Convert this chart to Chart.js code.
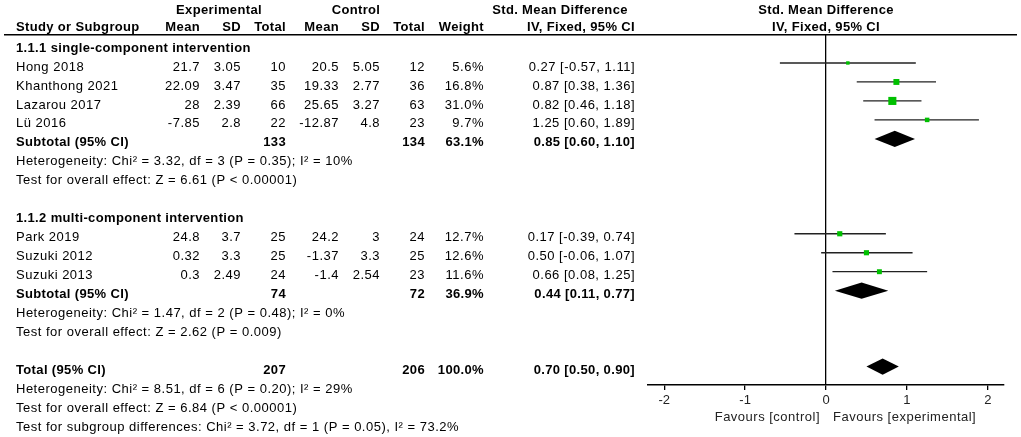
<!DOCTYPE html>
<html>
<head>
<meta charset="utf-8">
<script src="https://cdn.jsdelivr.net/npm/chart.js@4.4.0/dist/chart.umd.min.js"></script>
<style>
body { margin: 0; background: #fff; }
#wrap { width: 1021px; height: 437px; position: relative; }
</style>
</head>
<body>
<div id="wrap"><canvas id="forestChart"></canvas></div>
<script>
// study level data
const studies = ['Hong 2018', 'Khanthong 2021', 'Lazarou 2017', 'Lü 2016', 'Park 2019', 'Suzuki 2012', 'Suzuki 2013'];
const studyGroup = [0, 0, 0, 0, 1, 1, 1];
const expMean = [21.7, 22.09, 28, -7.85, 24.8, 0.32, 0.3];
const expSD = [3.05, 3.47, 2.39, 2.8, 3.7, 3.3, 2.49];
const expTotal = [10, 35, 66, 22, 25, 25, 24];
const ctlMean = [20.5, 19.33, 25.65, -12.87, 24.2, -1.37, -1.4];
const ctlSD = [5.05, 2.77, 3.27, 4.8, 3, 3.3, 2.54];
const ctlTotal = [12, 36, 63, 23, 24, 25, 23];
const weights = [5.6, 16.8, 31.0, 9.7, 12.7, 12.6, 11.6];
const smd = [0.27, 0.87, 0.82, 1.25, 0.17, 0.50, 0.66];
const ciLow = [-0.57, 0.38, 0.46, 0.60, -0.39, -0.06, 0.08];
const ciHigh = [1.11, 1.36, 1.18, 1.89, 0.74, 1.07, 1.25];

// subgroups
const groupLabels = ['1.1.1 single-component intervention', '1.1.2 multi-component intervention'];
const subExpTotal = [133, 74];
const subCtlTotal = [134, 72];
const subWeight = [63.1, 36.9];
const subSmd = [0.85, 0.44];
const subLow = [0.60, 0.11];
const subHigh = [1.10, 0.77];
const subHet = ['Heterogeneity: Chi² = 3.32, df = 3 (P = 0.35); I² = 10%', 'Heterogeneity: Chi² = 1.47, df = 2 (P = 0.48); I² = 0%'];
const subTest = ['Test for overall effect: Z = 6.61 (P < 0.00001)', 'Test for overall effect: Z = 2.62 (P = 0.009)'];

// overall
const totalExp = 207;
const totalCtl = 206;
const totalWeight = 100.0;
const totalSmd = 0.70;
const totalLow = 0.50;
const totalHigh = 0.90;
const totalNotes = [
    'Heterogeneity: Chi² = 8.51, df = 6 (P = 0.20); I² = 29%',
    'Test for overall effect: Z = 6.84 (P < 0.00001)',
    'Test for subgroup differences: Chi² = 3.72, df = 1 (P = 0.05), I² = 73.2%'
];

const xTicks = [-2, -1, 0, 1, 2];

// work out which row everything sits on
const studyRow = [];
const groupRow = [];
const subRow = [];
let r = 0;
groupLabels.forEach((g, gi) => {
    groupRow[gi] = r++;
    studies.forEach((s, i) => {
        if (studyGroup[i] === gi) studyRow[i] = r++;
    });
    subRow[gi] = r++;
    r += 3; // heterogeneity, test, blank
});
const totalRow = r;

const FONT = '"Liberation Sans", Arial, sans-serif';
const fmt2 = v => v.toFixed(2);
const ciText = (e, l, h) => fmt2(e) + ' [' + fmt2(l) + ', ' + fmt2(h) + ']';
const DIAMOND_H = 0.43;

function diamond(e, l, h, row) {
    return [
        { x: l, y: row }, { x: e, y: row - DIAMOND_H }, { x: h, y: row },
        { x: e, y: row + DIAMOND_H }, { x: l, y: row }
    ];
}

const datasets = [];
datasets.push({
    label: 'studies',
    data: studies.map((s, i) => ({ x: smd[i], y: studyRow[i] })),
    pointStyle: 'rect',
    pointRadius: weights.map(w => 1.45 * Math.sqrt(w) / Math.SQRT2),
    backgroundColor: '#00c000',
    borderWidth: 0
});
studies.forEach((s, i) => {
    datasets.push({
        type: 'line',
        label: s + ' CI',
        data: [{ x: ciLow[i], y: studyRow[i] }, { x: ciHigh[i], y: studyRow[i] }],
        borderColor: '#222',
        borderWidth: 1.3,
        pointRadius: 0
    });
});
groupLabels.forEach((g, gi) => {
    datasets.push({
        type: 'line',
        label: g,
        data: diamond(subSmd[gi], subLow[gi], subHigh[gi], subRow[gi]),
        borderWidth: 0,
        borderColor: '#000',
        backgroundColor: '#000',
        fill: 'shape',
        pointRadius: 0
    });
});
datasets.push({
    type: 'line',
    label: 'total',
    data: diamond(totalSmd, totalLow, totalHigh, totalRow),
    borderWidth: 0,
    borderColor: '#000',
    backgroundColor: '#000',
    fill: 'shape',
    pointRadius: 0
});

const tablePlugin = {
    id: 'forestTable',
    afterDraw(chart) {
        const ctx = chart.ctx;
        const ys = chart.scales.y;
        const xs = chart.scales.x;
        const rowY = row => ys.getPixelForValue(row) + 4;
        const put = (t, px, row, align, bold) => {
            ctx.font = (bold ? 'bold ' : '') + '13px ' + FONT;
            ctx.letterSpacing = bold ? '0.35px' : '0.5px';
            ctx.textAlign = align || 'right';
            ctx.fillText(t, px, rowY(row));
        };
        ctx.save();
        ctx.fillStyle = '#000';
        ctx.textBaseline = 'middle';

        // headers
        const h1 = -2.0, h2 = -1.06;
        put('Experimental', 219, h1, 'center', true);
        put('Control', 356, h1, 'center', true);
        put('Std. Mean Difference', 560, h1, 'center', true);
        put('Std. Mean Difference', xs.getPixelForValue(0), h1, 'center', true);
        put('Study or Subgroup', 16, h2, 'left', true);
        put('Mean', 200, h2, 'right', true);
        put('SD', 241, h2, 'right', true);
        put('Total', 286, h2, 'right', true);
        put('Mean', 339, h2, 'right', true);
        put('SD', 380, h2, 'right', true);
        put('Total', 425, h2, 'right', true);
        put('Weight', 484, h2, 'right', true);
        put('IV, Fixed, 95% CI', 635, h2, 'right', true);
        put('IV, Fixed, 95% CI', xs.getPixelForValue(0), h2, 'center', true);

        ctx.strokeStyle = '#000';
        ctx.lineWidth = 1.5;
        ctx.beginPath();
        ctx.moveTo(4, ys.top + 0.75);
        ctx.lineTo(1017, ys.top + 0.75);
        ctx.stroke();

        groupLabels.forEach((g, gi) => {
            put(g, 16, groupRow[gi], 'left', true);
            const sr = subRow[gi];
            put('Subtotal (95% CI)', 16, sr, 'left', true);
            put(String(subExpTotal[gi]), 286, sr, 'right', true);
            put(String(subCtlTotal[gi]), 425, sr, 'right', true);
            put(subWeight[gi].toFixed(1) + '%', 484, sr, 'right', true);
            put(ciText(subSmd[gi], subLow[gi], subHigh[gi]), 635, sr, 'right', true);
            put(subHet[gi], 16, sr + 1, 'left', false);
            put(subTest[gi], 16, sr + 2, 'left', false);
        });

        studies.forEach((s, i) => {
            const row = studyRow[i];
            put(s, 16, row, 'left', false);
            put(String(expMean[i]), 200, row);
            put(String(expSD[i]), 241, row);
            put(String(expTotal[i]), 286, row);
            put(String(ctlMean[i]), 339, row);
            put(String(ctlSD[i]), 380, row);
            put(String(ctlTotal[i]), 425, row);
            put(weights[i].toFixed(1) + '%', 484, row);
            put(ciText(smd[i], ciLow[i], ciHigh[i]), 635, row);
        });

        put('Total (95% CI)', 16, totalRow, 'left', true);
        put(String(totalExp), 286, totalRow, 'right', true);
        put(String(totalCtl), 425, totalRow, 'right', true);
        put(totalWeight.toFixed(1) + '%', 484, totalRow, 'right', true);
        put(ciText(totalSmd, totalLow, totalHigh), 635, totalRow, 'right', true);
        totalNotes.forEach((t, k) => put(t, 16, totalRow + 1 + k, 'left', false));

        // favours labels under the axis
        const zero = xs.getPixelForValue(0);
        ctx.font = '13px ' + FONT;
        ctx.letterSpacing = '0.5px';
        ctx.fillStyle = '#222';
        ctx.textAlign = 'right';
        ctx.fillText('Favours [control]', zero - 6, 417);
        ctx.textAlign = 'left';
        ctx.fillText('Favours [experimental]', zero + 7, 417);
        ctx.restore();
    }
};

new Chart(document.getElementById('forestChart'), {
    type: 'scatter',
    data: { datasets: datasets },
    options: {
        responsive: true,
        maintainAspectRatio: false,
        animation: false,
        layout: { padding: { left: 648, right: 17, top: 34, bottom: 0 } },
        plugins: {
            legend: { display: false },
            tooltip: { enabled: false }
        },
        scales: {
            x: {
                type: 'linear',
                min: -2.2,
                max: 2.2,
                afterFit: scale => { scale.height = 52; },
                afterBuildTicks: scale => { scale.ticks = xTicks.map(v => ({ value: v })); },
                ticks: {
                    includeBounds: false,
                    color: '#222',
                    padding: 3,
                    font: { family: FONT, size: 13 },
                    callback: v => String(v)
                },
                grid: {
                    color: c => (c.tick && c.tick.value === 0 ? '#000' : 'rgba(0,0,0,0)'),
                    lineWidth: 1.3,
                    drawTicks: true,
                    tickLength: 5,
                    tickColor: '#000',
                    tickWidth: 1.3
                },
                border: { display: true, color: '#000', width: 1.5 }
            },
            y: {
                type: 'linear',
                display: false,
                reverse: true,
                min: -0.527,
                max: 17.97
            }
        }
    },
    plugins: [tablePlugin]
});
</script>
</body>
</html>
